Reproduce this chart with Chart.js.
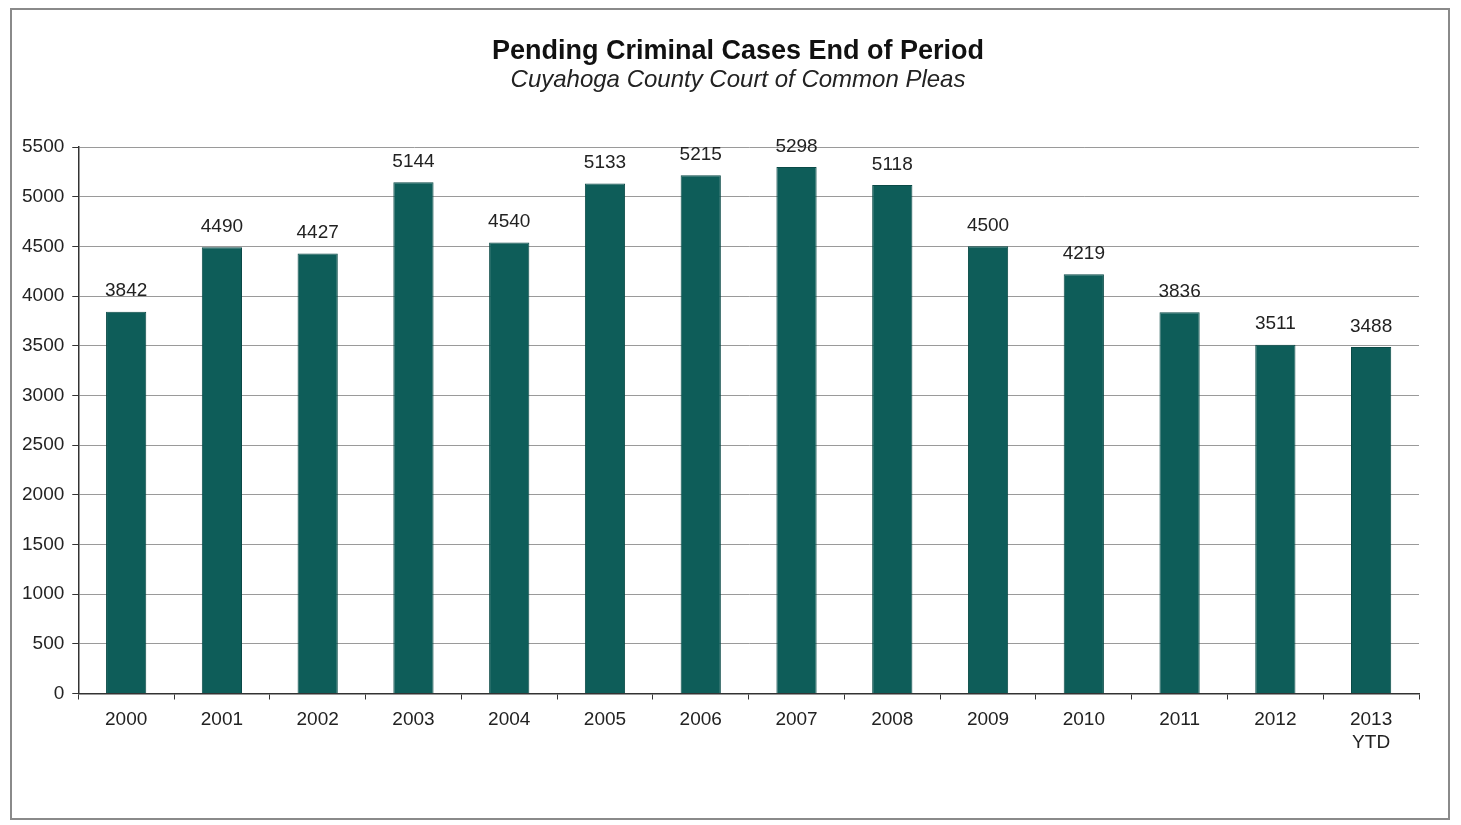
<!DOCTYPE html>
<html>
<head>
<meta charset="utf-8">
<script src="https://cdn.jsdelivr.net/npm/chart.js@4.4.0/dist/chart.umd.min.js"></script>
<style>
  html, body { margin: 0; padding: 0; background: #fff; }
  #frame { position: absolute; left: 10px; top: 8px; width: 1440px; height: 812px; border: 2px solid #8a8a8a; box-sizing: border-box; }
  #wrap { position: absolute; left: 0; top: 0; width: 1461px; height: 825px; }
</style>
</head>
<body>
<div id="frame"></div>
<div id="wrap"><canvas id="pendingChart"></canvas></div>
<script>
// 数据
const years = ['2000', '2001', '2002', '2003', '2004', '2005', '2006', '2007', '2008', '2009', '2010', '2011', '2012', ['2013', 'YTD']];
const pendingCases = [3842, 4490, 4427, 5144, 4540, 5133, 5215, 5298, 5118, 4500, 4219, 3836, 3511, 3488];
const yTicks = [0, 500, 1000, 1500, 2000, 2500, 3000, 3500, 4000, 4500, 5000, 5500];
const chartTitle = 'Pending Criminal Cases End of Period';
const chartSubtitle = 'Cuyahoga County Court of Common Pleas';

const fontFamily = '"Liberation Sans", Arial, sans-serif';

// 标题（居中于外框）
const headerText = {
    id: 'headerText',
    afterDraw(chart) {
        const ctx = chart.ctx;
        const cx = 738;
        ctx.save();
        ctx.textAlign = 'center';
        ctx.textBaseline = 'middle';
        ctx.fillStyle = '#111';
        ctx.font = 'bold 27px ' + fontFamily;
        ctx.fillText(chartTitle, cx, 52);
        ctx.fillStyle = '#222';
        ctx.font = 'italic 24px ' + fontFamily;
        ctx.fillText(chartSubtitle, cx, 80);
        ctx.restore();
    }
};

// 柱顶数值标签
const valueLabels = {
    id: 'valueLabels',
    afterDatasetsDraw(chart) {
        const ctx = chart.ctx;
        const meta = chart.getDatasetMeta(0);
        ctx.save();
        ctx.font = '19px ' + fontFamily;
        ctx.fillStyle = '#222';
        ctx.textAlign = 'center';
        ctx.textBaseline = 'bottom';
        meta.data.forEach((bar, i) => {
            ctx.fillText(String(pendingCases[i]), bar.x, bar.y - 11);
        });
        ctx.restore();
    }
};

new Chart(document.getElementById('pendingChart').getContext('2d'), {
    type: 'bar',
    data: {
        labels: years,
        datasets: [{
            label: 'Pending Criminal Cases',
            data: pendingCases,
            backgroundColor: '#0e5d59',
            borderColor: '#0a4a47',
            borderWidth: 1,
            categoryPercentage: 1.0,
            barPercentage: 0.42
        }]
    },
    options: {
        responsive: true,
        maintainAspectRatio: false,
        animation: false,
        layout: { padding: { top: 147, left: 14, right: 42, bottom: 62 } },
        plugins: {
            legend: { display: false },
            tooltip: { enabled: false },
            title: { display: false },
            subtitle: { display: false }
        },
        scales: {
            y: {
                min: 0,
                max: 5500,
                afterBuildTicks(axis) {
                    axis.ticks = yTicks.map(v => ({ value: v }));
                },
                ticks: {
                    color: '#222',
                    padding: 8,
                    font: { family: fontFamily, size: 19 },
                    callback: value => String(value)
                },
                grid: {
                    color: '#9a9a9a',
                    lineWidth: 1,
                    tickLength: 6,
                    tickColor: '#333'
                },
                border: { color: '#333', width: 1.5 }
            },
            x: {
                offset: true,
                ticks: {
                    color: '#222',
                    padding: 8,
                    font: { family: fontFamily, size: 19, lineHeight: 1.25 }
                },
                grid: {
                    offset: true,
                    drawOnChartArea: false,
                    tickLength: 6,
                    tickColor: '#333'
                },
                border: { color: '#333', width: 1.5 }
            }
        }
    },
    plugins: [valueLabels, headerText]
});
</script>
</body>
</html>
